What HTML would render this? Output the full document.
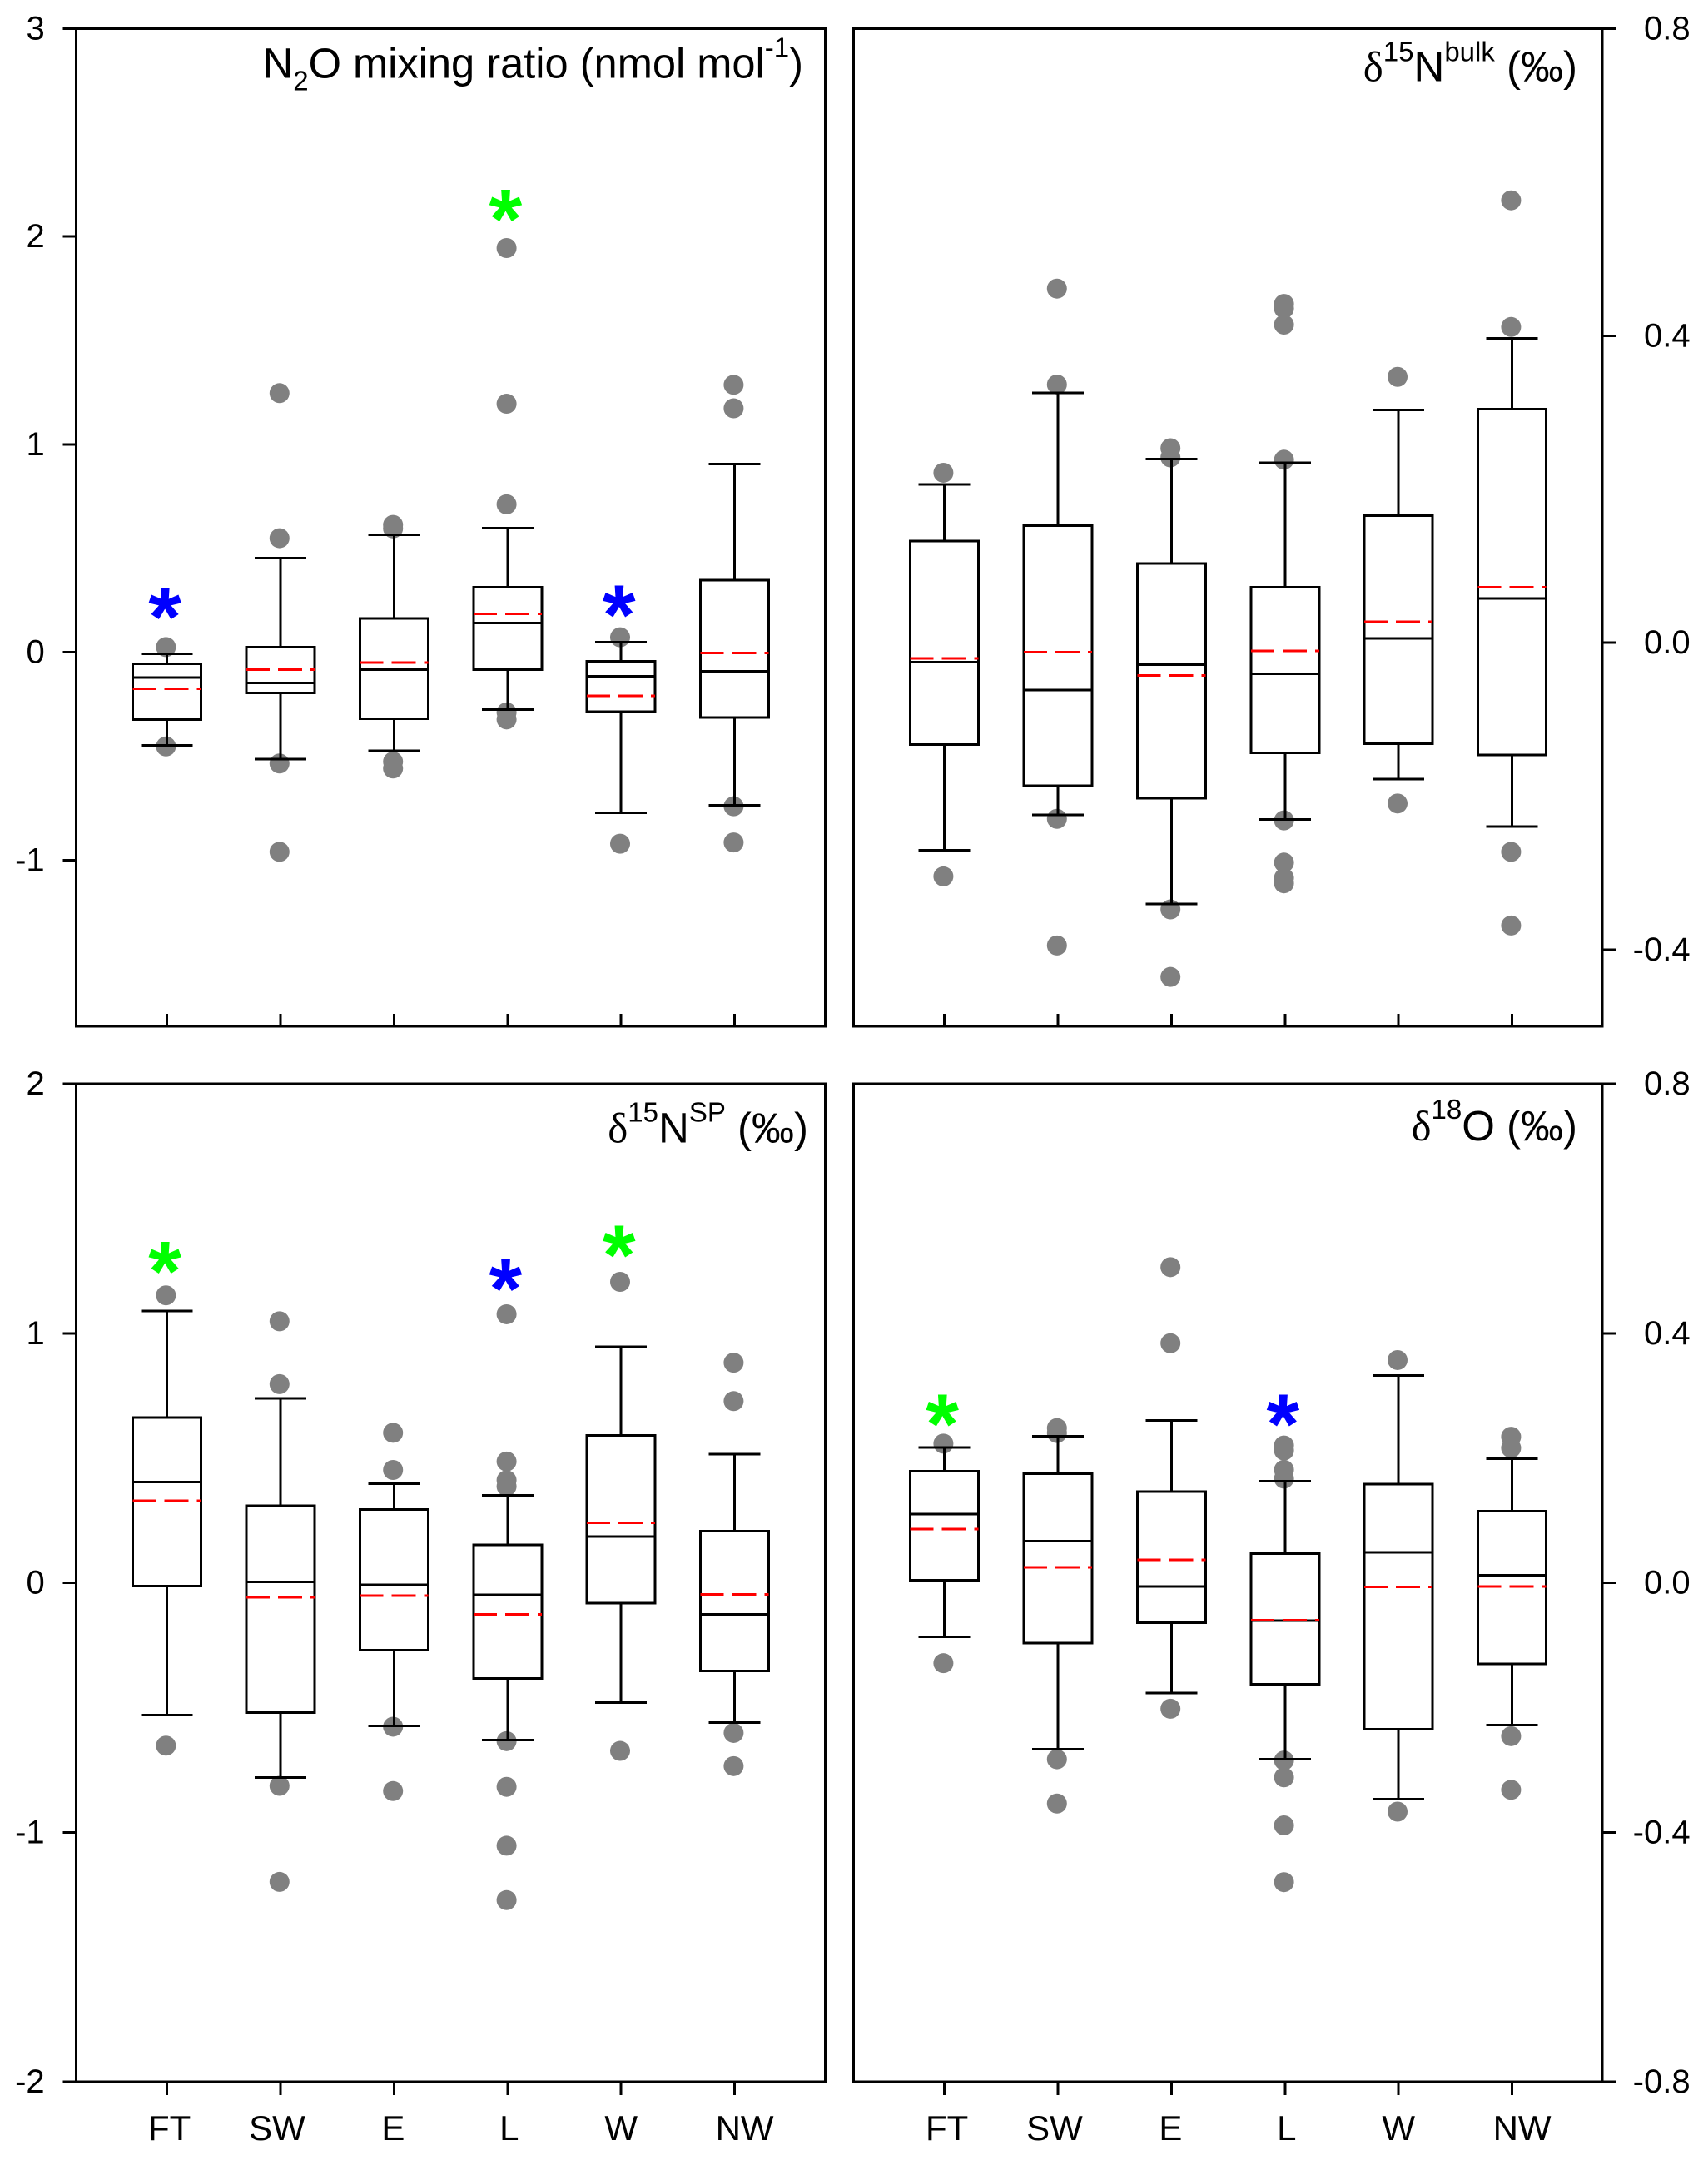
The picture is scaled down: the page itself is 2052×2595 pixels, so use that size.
<!DOCTYPE html>
<html lang="en">
<head>
<meta charset="utf-8">
<title>N2O boxplots by air mass sector</title>
<style>
html,body{margin:0;padding:0;background:#fff;}
#figure{display:block;width:2052px;height:2595px;}
text{font-family:"Liberation Sans",sans-serif;fill:#000;}
line,rect{shape-rendering:crispEdges;}
</style>
</head>
<body>
<svg id="figure" xmlns="http://www.w3.org/2000/svg" width="2052" height="2595" viewBox="0 0 2052 2595">
  <rect x="0" y="0" width="2052" height="2595" fill="#fff"/>
  <text x="965" y="93.4" text-anchor="end" font-size="50.6">N<tspan font-size="33" dy="15">2</tspan><tspan dy="-15">O mixing ratio (nmol mol</tspan><tspan font-size="33" dy="-25">-1</tspan><tspan dy="25">)</tspan></text>
  <text x="1895" y="97.6" text-anchor="end" font-size="51"><tspan style="font-family:'Liberation Serif',serif">δ</tspan><tspan font-size="33" dy="-24">15</tspan><tspan dy="24">N</tspan><tspan font-size="33" dy="-24">bulk</tspan><tspan dy="24"> (‰)</tspan></text>
  <text x="971" y="1372.3" text-anchor="end" font-size="51"><tspan style="font-family:'Liberation Serif',serif">δ</tspan><tspan font-size="33" dy="-25">15</tspan><tspan dy="25">N</tspan><tspan font-size="33" dy="-25">SP</tspan><tspan dy="25"> (‰)</tspan></text>
  <text x="1895" y="1370" text-anchor="end" font-size="51"><tspan style="font-family:'Liberation Serif',serif">δ</tspan><tspan font-size="33" dy="-26">18</tspan><tspan dy="26">O (‰)</tspan></text>
</svg>
<script>
const categories = ['FT', 'SW', 'E', 'L', 'W', 'NW'];

// Panel 1: N2O mixing ratio
const n2oTicks = [3, 2, 1, 0, -1];
const n2oQ3 = [-0.052, 0.029, 0.167, 0.317, -0.039, 0.351];
const n2oMedian = [-0.118, -0.143, -0.079, 0.145, -0.111, -0.088];
const n2oMean = [-0.172, -0.079, -0.046, 0.189, -0.206, 0];
const n2oQ1 = [-0.320, -0.192, -0.315, -0.079, -0.282, -0.309];
const n2oWhiskerHigh = [-0.003, 0.457, 0.570, 0.601, 0.052, 0.910];
const n2oWhiskerLow = [-0.443, -0.509, -0.469, -0.272, -0.769, -0.732];
const n2oOutliers = [
  [0.029, -0.449],
  [1.251, 0.553, -0.531, -0.956],
  [0.617, 0.600, -0.522, -0.555],
  [1.949, 1.200, 0.716, -0.285, -0.319],
  [0.076, -0.917],
  [1.291, 1.178, -0.737, -0.911]
];
const n2oStarCategories = [0, 3, 4];
const n2oStarValues = [0.23, 2.144, 0.24];
const n2oStarColors = ['#0000ff', '#00ff00', '#0000ff'];

// Panel 2: d15N bulk
const bulkTicks = [0.8, 0.4, 0, -0.4];
const bulkQ3 = [0.133, 0.153, 0.104, 0.073, 0.166, 0.305];
const bulkMedian = [-0.025, -0.061, -0.028, -0.040, 0.006, 0.058];
const bulkMean = [-0.020, -0.012, -0.042, -0.010, 0.028, 0.073];
const bulkQ1 = [-0.132, -0.186, -0.202, -0.143, -0.131, -0.146];
const bulkWhiskerHigh = [0.207, 0.326, 0.240, 0.235, 0.304, 0.397];
const bulkWhiskerLow = [-0.270, -0.224, -0.340, -0.230, -0.177, -0.239];
const bulkOutliers = [
  [0.222, -0.304],
  [0.462, 0.337, -0.229, -0.394],
  [0.254, 0.242, -0.347, -0.435],
  [0.442, 0.436, 0.415, 0.239, -0.231, -0.286, -0.306, -0.313],
  [0.347, -0.209],
  [0.577, 0.412, -0.272, -0.368]
];

// Panel 3: d15N SP
const spTicks = [2, 1, 0, -1, -2];
const spQ3 = [0.663, 0.308, 0.294, 0.152, 0.590, 0.207];
const spMedian = [0.404, 0.003, -0.008, -0.049, 0.185, -0.126];
const spMean = [0.328, -0.058, -0.051, -0.126, 0.241, -0.046];
const spQ1 = [-0.014, -0.520, -0.271, -0.384, -0.082, -0.354];
const spWhiskerHigh = [1.090, 0.739, 0.397, 0.351, 0.946, 0.515];
const spWhiskerLow = [-0.530, -0.780, -0.574, -0.631, -0.481, -0.560];
const spOutliers = [
  [1.152, -0.653],
  [1.048, 0.796, -0.814, -1.199],
  [0.601, 0.452, -0.577, -0.835],
  [1.076, 0.486, 0.411, 0.386, -0.635, -0.818, -1.054, -1.272],
  [1.206, -0.674],
  [0.882, 0.728, -0.602, -0.735]
];
const spStarCategories = [0, 3, 4];
const spStarValues = [1.30, 1.23, 1.364];
const spStarColors = ['#00ff00', '#0000ff', '#00ff00'];

// Panel 4: d18O
const o18Ticks = [0.8, 0.4, 0, -0.4, -0.8];
const o18Q3 = [0.179, 0.175, 0.146, 0.047, 0.158, 0.115];
const o18Median = [0.110, 0.067, -0.006, -0.061, 0.049, 0.012];
const o18Mean = [0.086, 0.025, 0.037, -0.060, -0.007, -0.006];
const o18Q1 = [0.004, -0.097, -0.064, -0.163, -0.235, -0.130];
const o18WhiskerHigh = [0.217, 0.235, 0.260, 0.163, 0.332, 0.199];
const o18WhiskerLow = [-0.087, -0.267, -0.177, -0.283, -0.347, -0.228];
const o18Outliers = [
  [0.223, -0.129],
  [0.248, 0.240, -0.283, -0.354],
  [0.506, 0.384, -0.202],
  [0.220, 0.212, 0.181, 0.167, -0.285, -0.312, -0.389, -0.480],
  [0.357, -0.367],
  [0.234, 0.216, -0.246, -0.332]
];
const o18StarCategories = [0, 3];
const o18StarValues = [0.275, 0.275];
const o18StarColors = ['#00ff00', '#0000ff'];

const NS = 'http://www.w3.org/2000/svg';
const svg = document.getElementById('figure');
const LW = 3;

function mk(tag, attrs, parent) {
  const el = document.createElementNS(NS, tag);
  for (const k in attrs) el.setAttribute(k, attrs[k]);
  parent.appendChild(el);
  return el;
}
function line(parent, x1, y1, x2, y2, color, width) {
  return mk('line', { x1: x1, y1: y1, x2: x2, y2: y2, stroke: color || '#000', 'stroke-width': width || LW }, parent);
}

function drawPanel(p) {
  const g = mk('g', {}, svg);
  
  

  const yAxis = v => p.top + (p.domainTop - v) / (p.domainTop - p.domainBottom) * (p.bottom - p.top);
  const yScale = v => yAxis(v) + p.markShift;
  const xScale = i => p.left + 109 + 136.4 * i;

  // outliers sit underneath the box lines
  p.outliers.forEach((vals, i) => {
    vals.forEach(v => {
      const dot = mk('circle', { cx: xScale(i) - 1.2, cy: yScale(v), r: 12, fill: '#808080' }, g);
      
      
    });
  });

  // boxes
  categories.forEach((c, i) => {
    const x = xScale(i);
    const box = mk('g', {}, g);
    
    
    const yQ3 = yScale(p.q3[i]), yQ1 = yScale(p.q1[i]);
    line(box, x, yScale(p.whiskerHigh[i]), x, yQ3);
    line(box, x, yQ1, x, yScale(p.whiskerLow[i]));
    line(box, x - 31, yScale(p.whiskerHigh[i]), x + 31, yScale(p.whiskerHigh[i]));
    line(box, x - 31, yScale(p.whiskerLow[i]), x + 31, yScale(p.whiskerLow[i]));
    mk('rect', { x: x - 41, y: yQ3, width: 82, height: yQ1 - yQ3, fill: 'none', stroke: '#000', 'stroke-width': LW }, box);
    line(box, x - 41, yScale(p.median[i]), x + 41, yScale(p.median[i]));
    const mean = line(box, x - 41, yScale(p.mean[i]), x + 41, yScale(p.mean[i]), '#ff0000');
    mean.setAttribute('stroke-dasharray', '28 10 29 10 5');
  });

  // frame
  const frame = mk('rect', { x: p.left, y: p.top, width: p.width, height: p.bottom - p.top, fill: 'none', stroke: '#000', 'stroke-width': LW }, g);
  
  

  // y ticks
  p.ticks.forEach(t => {
    const y = yAxis(t);
    const x0 = p.side === 'left' ? p.left - 16 : p.left + p.width;
    const x1 = p.side === 'left' ? p.left : p.left + p.width + 16;
    const tick = line(g, x0, y, x1, y);
    
    
    const lab = mk('text', { x: p.side === 'left' ? 53.7 : 2030.6, y: y + 13, 'text-anchor': 'end', 'font-size': 40 }, g);
    
    
    lab.textContent = p.decimals ? t.toFixed(p.decimals) : String(t);
  });

  // x ticks
  categories.forEach((c, i) => {
    const x = xScale(i);
    const tick = p.labels ? line(g, x, p.bottom, x, p.bottom + 16) : line(g, x, p.bottom - 15, x, p.bottom);
    
    
    if (p.labels) {
      const lab = mk('text', { x: x + [3, -4, -1, 2, 0, 12][i], y: 2571, 'text-anchor': 'middle', 'font-size': 42 }, g);
      
      
      lab.textContent = c;
    }
  });

  // significance asterisks
  (p.starCats || []).forEach((cat, k) => {
    const star = mk('text', { x: xScale(cat) - 2.5, y: yAxis(p.starVals[k]) + 50.5, 'text-anchor': 'middle', 'font-size': 102, 'font-weight': 'bold' }, g);
    star.style.fill = p.starColors[k];
    
    
    star.textContent = '*';
  });
}

drawPanel({ name: 'n2o', side: 'left', left: 91.6, width: 900, top: 34.5, bottom: 1233, domainTop: 3, domainBottom: -1.8, decimals: 0, markShift: 1.1,
  ticks: n2oTicks, q3: n2oQ3, median: n2oMedian, mean: n2oMean, q1: n2oQ1, whiskerHigh: n2oWhiskerHigh, whiskerLow: n2oWhiskerLow, outliers: n2oOutliers,
  starCats: n2oStarCategories, starVals: n2oStarValues, starColors: n2oStarColors });
drawPanel({ name: 'd15n-bulk', side: 'right', left: 1025.6, width: 899.6, top: 34.5, bottom: 1233, domainTop: 0.8, domainBottom: -0.5, decimals: 1, markShift: 0.6,
  ticks: bulkTicks, q3: bulkQ3, median: bulkMedian, mean: bulkMean, q1: bulkQ1, whiskerHigh: bulkWhiskerHigh, whiskerLow: bulkWhiskerLow, outliers: bulkOutliers });
drawPanel({ name: 'd15n-sp', side: 'left', left: 91.6, width: 900, top: 1302, bottom: 2501, domainTop: 2, domainBottom: -2, decimals: 0, labels: true, markShift: 0,
  ticks: spTicks, q3: spQ3, median: spMedian, mean: spMean, q1: spQ1, whiskerHigh: spWhiskerHigh, whiskerLow: spWhiskerLow, outliers: spOutliers,
  starCats: spStarCategories, starVals: spStarValues, starColors: spStarColors });
drawPanel({ name: 'd18o', side: 'right', left: 1025.6, width: 899.6, top: 1302, bottom: 2501, domainTop: 0.8, domainBottom: -0.8, decimals: 1, labels: true, markShift: 0,
  ticks: o18Ticks, q3: o18Q3, median: o18Median, mean: o18Mean, q1: o18Q1, whiskerHigh: o18WhiskerHigh, whiskerLow: o18WhiskerLow, outliers: o18Outliers,
  starCats: o18StarCategories, starVals: o18StarValues, starColors: o18StarColors });
</script>
</body>
</html>
